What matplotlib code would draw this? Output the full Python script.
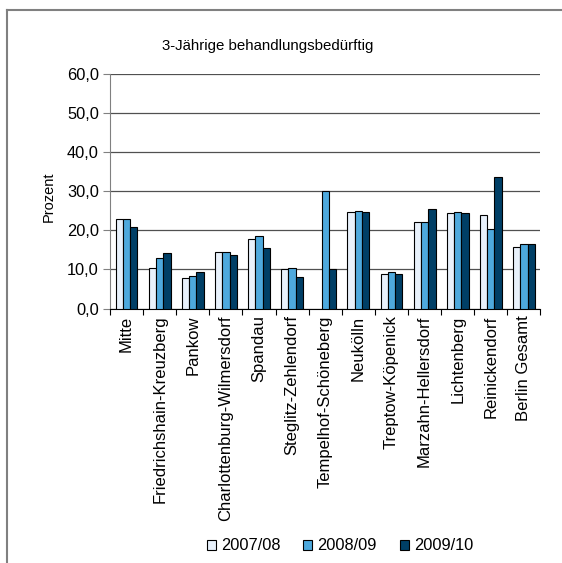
import matplotlib.pyplot as plt
import numpy as np
from matplotlib.lines import Line2D

plt.rcParams['font.family'] = ['Liberation Sans', 'DejaVu Sans']

districts = ['Mitte', 'Friedrichshain-Kreuzberg', 'Pankow', 'Charlottenburg-Wilmersdorf',
             'Spandau', 'Steglitz-Zehlendorf', 'Tempelhof-Schöneberg', 'Neukölln',
             'Treptow-Köpenick', 'Marzahn-Hellersdorf', 'Lichtenberg', 'Reinickendorf',
             'Berlin Gesamt']
series = ['2007/08', '2008/09', '2009/10']
v0708 = [22.8, 10.3, 7.8, 14.5, 17.8, 10.1, np.nan, 24.7, 8.9, 22.1, 24.5, 24.0, 15.7]
v0809 = [22.8, 13.0, 8.3, 14.5, 18.4, 10.4, 30.1, 24.8, 9.4, 22.1, 24.7, 20.2, 16.5]
v0910 = [20.9, 14.2, 9.4, 13.6, 15.4, 8.1, 10.2, 24.7, 8.7, 25.4, 24.3, 33.7, 16.5]
colors = ['#E8F1FB', '#4EA9DD', '#003F66']
yticks = [0, 10, 20, 30, 40, 50, 60]

fig = plt.figure(figsize=(5.62, 5.63), dpi=100)
ax = fig.add_axes([0.1957, 0.452, 0.7660, 0.4174])

x = np.arange(len(districts))
w = 0.22
for i, (vals, c, lab) in enumerate(zip([v0708, v0809, v0910], colors, series)):
    ax.bar(x + (i - 1) * w, vals, w, color=c, edgecolor='black', linewidth=0.8,
           label=lab, zorder=3)

ax.set_xlim(-0.5, len(districts) - 0.5)
ax.set_ylim(0, 60)
ax.set_yticks(yticks)
ax.set_yticklabels([f'{t:.1f}'.replace('.', ',') for t in yticks], fontsize=11.8)
ax.yaxis.grid(True, color='#505050', linewidth=0.9, zorder=0)
ax.set_axisbelow(True)

ax.set_xticks(x)
ax.set_xticklabels(districts, rotation=90, fontsize=12)
ax.tick_params(axis='x', which='major', length=0, pad=5)
ax.set_xticks(np.arange(-0.5, len(districts)), minor=True)
ax.tick_params(axis='x', which='minor', length=4, width=0.8, direction='out')
ax.tick_params(axis='y', length=5, width=0.8, color='#808080', pad=3)

for s in ['top', 'right']:
    ax.spines[s].set_visible(False)
ax.spines['left'].set_color('#808080')
ax.spines['bottom'].set_color('black')

ax.set_ylabel('Prozent', fontsize=10.5)
ax.yaxis.set_label_coords(-0.126, 0.474)

fig.text(268 / 562, 1 - 46 / 563, '3-Jährige behandlungsbedürftig', ha='center',
         va='center', fontsize=10.8)

# outer chart frame (left and top edges)
fig.add_artist(Line2D([7 / 562, 7 / 562], [0, 1 - 10 / 563], color='#808080',
                      linewidth=1.5, transform=fig.transFigure))
fig.add_artist(Line2D([7 / 562, 1], [1 - 10 / 563, 1 - 10 / 563], color='#808080',
                      linewidth=1.5, transform=fig.transFigure))

fig.legend(loc='center', bbox_to_anchor=(340 / 562, 1 - 546 / 563), ncol=3,
           frameon=False, fontsize=11.8, handlelength=0.55, handleheight=0.55,
           handletextpad=0.3, columnspacing=1.4)

fig.savefig('out.png', dpi=100)
